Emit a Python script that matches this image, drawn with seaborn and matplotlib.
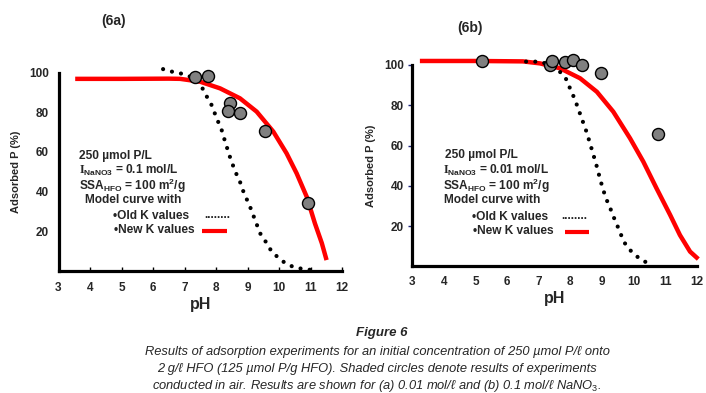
import matplotlib
matplotlib.use("Agg")
import matplotlib.pyplot as plt
import seaborn as sns
import pandas as pd
from matplotlib.lines import Line2D

# ---------------- data ----------------
# Panel 6a
a_new_ph = [3.53, 5.0, 6.5, 6.86, 7.49, 8.13, 8.76, 9.29, 9.82, 10.24, 10.56, 10.88, 11.14, 11.36, 11.51]
a_new_p  = [96.8, 96.8, 96.9, 96.8, 95.4, 92.0, 87.0, 80.3, 70.2, 59.3, 49.2, 37.4, 24.0, 14.0, 5.5]
a_old_ph = [6.32, 6.58, 6.84, 7.1, 7.3, 7.49, 7.65, 7.86, 8.02, 8.18, 8.29, 8.44, 8.6, 8.76, 8.87,
            9.08, 9.24, 9.4, 9.61, 9.77, 10.03, 10.24, 10.5, 10.77, 11.04]
a_old_p  = [101.7, 100.5, 99.7, 98.5, 97.0, 94.6, 89.5, 83.6, 77.0, 71.0, 65.1, 57.6, 50.5, 45.0, 40.0,
            32.4, 25.7, 19.0, 14.0, 9.7, 6.0, 3.5, 1.8, 1.0, 0.5]
a_obs_ph = [7.33, 7.74, 8.44, 8.39, 8.76, 9.56, 10.93]
a_obs_p  = [97.9, 98.4, 84.8, 80.8, 79.8, 70.7, 34.4]

# Panel 6b
b_new_ph = [3.24, 5.0, 6.5, 7.04, 7.67, 8.31, 8.84, 9.36, 9.89, 10.31, 10.73, 11.16, 11.47, 11.79, 12.05]
b_new_p  = [102.0, 102.0, 101.8, 100.8, 98.4, 93.4, 86.7, 76.8, 63.6, 52.0, 38.7, 25.5, 15.5, 7.3, 3.6]
b_old_ph = [6.6, 6.85, 7.1, 7.46, 7.73, 7.89, 7.99, 8.1, 8.2, 8.36, 8.52, 8.71, 8.84, 8.94, 9.04,
            9.15, 9.26, 9.41, 9.52, 9.63, 9.73, 9.89, 10.05, 10.26, 10.47]
b_old_p  = [101.7, 101.7, 101.5, 99.0, 95.9, 92.5, 88.4, 84.5, 80.5, 73.5, 66.5, 56.5, 49.5, 43.5, 38.0,
            33.0, 29.0, 23.0, 19.0, 14.7, 11.4, 8.1, 5.6, 3.1, 1.5]
b_obs_ph = [5.22, 7.36, 7.41, 7.83, 8.08, 8.36, 8.96, 10.79]
b_obs_p  = [102.0, 100.0, 102.0, 101.3, 102.5, 100.0, 95.9, 65.6]

x_ticks = [3, 4, 5, 6, 7, 8, 9, 10, 11, 12]
y_ticks = [20, 40, 60, 80, 100]

# ---------------- style ----------------
sns.set_style("white")
plt.rcParams['font.family'] = ['Liberation Sans', 'DejaVu Sans']
plt.rcParams['mathtext.fontset'] = 'custom'
plt.rcParams['mathtext.rm'] = 'Liberation Sans'
plt.rcParams['mathtext.it'] = 'Liberation Sans:italic'
plt.rcParams['mathtext.bf'] = 'Liberation Serif:bold'
plt.rcParams['mathtext.sf'] = 'Liberation Sans:bold'

W, H = 706, 393
fig = plt.figure(figsize=(W / 100, H / 100), dpi=100)

def fx(px):
    return px / W

def fy(py):
    return 1 - py / H

RED = '#ff0000'

def panel(rect, new_ph, new_p, old_ph, old_p, obs_ph, obs_p, is_b):
    ax = fig.add_axes(rect)
    df_new = pd.DataFrame({'pH': new_ph, 'P': new_p})
    df_old = pd.DataFrame({'pH': old_ph, 'P': old_p})
    df_obs = pd.DataFrame({'pH': obs_ph, 'P': obs_p})
    sns.lineplot(data=df_new, x='pH', y='P', ax=ax, color=RED, linewidth=3.2,
                 estimator=None, sort=False, zorder=2)
    red_line = ax.lines[-1]
    red_line.set_solid_capstyle('butt')
    red_line.set_solid_joinstyle('round')
    sns.lineplot(data=df_old, x='pH', y='P', ax=ax, color='black', linewidth=3.0,
                 estimator=None, sort=False, zorder=2)
    dot_line = ax.lines[-1]
    dot_line.set_linestyle((0, (0.01, 2.2)))
    dot_line.set_dash_capstyle('round')
    sns.scatterplot(data=df_obs, x='pH', y='P', ax=ax, s=75, color='#808080',
                    edgecolor='black', linewidth=1.0, zorder=3)
    for ln in ax.lines:
        ln.set_clip_on(False)
    for c in ax.collections:
        c.set_clip_on(False)
    ax.set_xlim(3, 12)
    ax.set_ylim(0, 100)
    ax.set_xticks(x_ticks)
    ax.set_yticks(y_ticks)
    ax.set_xticklabels([str(v) for v in x_ticks], fontsize=8.5, fontweight='bold')
    ax.set_yticklabels([str(v) for v in y_ticks], fontsize=8.5, fontweight='bold')
    for s in ['top', 'right']:
        ax.spines[s].set_visible(False)
    for s in ['left', 'bottom']:
        ax.spines[s].set_linewidth(2.3)
        ax.spines[s].set_color('black')
    if is_b:
        ax.tick_params(axis='x', length=0, pad=7)
        ax.tick_params(axis='y', length=3, width=1, color='#1a237e', pad=3,
                       direction='out', left=True)
    else:
        ax.tick_params(axis='x', length=3, width=1, direction='in', bottom=True,
                       color='black', pad=8)
        ax.tick_params(axis='y', length=0, pad=7)
    ax.set_xlabel('pH', fontsize=11.5, fontweight='bold', labelpad=2)
    ax.set_ylabel('Adsorbed P (%)', fontsize=8, fontweight='bold', labelpad=6)
    ax.patch.set_alpha(0)
    return ax

ax_a = panel([fx(58.5), fy(271), fx(342) - fx(58.5), fy(72.5) - fy(271)],
             a_new_ph, a_new_p, a_old_ph, a_old_p, a_obs_ph, a_obs_p, False)
ax_b = panel([fx(412.3), fy(266.3), fx(696.7) - fx(412.3), fy(65) - fy(266.3)],
             b_new_ph, b_new_p, b_old_ph, b_old_p, b_obs_ph, b_obs_p, True)

# Titles
fig.text(fx(114), fy(21), '(6a)', fontsize=10, fontweight='bold', ha='center', va='center')
fig.text(fx(470), fy(28), '(6b)', fontsize=10, fontweight='bold', ha='center', va='center')

# Annotation blocks
TS = 8.6
def block(ys, xs, conc, dots_x, dots_y, red_x, red_y):
    lines = ['250 µmol P/L',
             r'$\mathbf{I}_{\mathsf{NaNO3}}$ = ' + conc + ' mol/L',
             r'SSA$_{\mathsf{HFO}}$ = 100 m$^{\mathsf{2}}$/g',
             'Model curve with',
             '•Old K values',
             '•New K values']
    for t, x, y in zip(lines, xs, ys):
        fig.text(fx(x), fy(y), t, fontsize=TS, fontweight='bold', ha='left', va='center')
    fig.text(fx(dots_x), fy(dots_y), '........', fontsize=TS, fontweight='bold',
             ha='left', va='center')
    fig.add_artist(Line2D([fx(red_x[0]), fx(red_x[1])], [fy(red_y), fy(red_y)],
                          color=RED, linewidth=3, solid_capstyle='butt'))

block([156, 170.2, 185.8, 200, 216, 230], [79, 79, 79, 85, 113, 114], '0.1',
      204, 215, (202, 227), 231.5)
block([155, 170.2, 185.5, 200, 216.7, 230.7], [445, 442.7, 442.7, 444, 471.7, 472.7], '0.01',
      561, 216, (565, 589), 232)

# Caption
fig.text(fx(382), fy(333), 'Figure 6', fontsize=9.5, fontweight='bold', style='italic',
         ha='center', va='center')
cap = ['Results of adsorption experiments for an initial concentration of 250 µmol P/ℓ onto',
       '2 g/ℓ HFO (125 µmol P/g HFO). Shaded circles denote results of experiments',
       r'conducted in air. Results are shown for (a) 0.01 mol/ℓ and (b) 0.1 mol/ℓ NaNO$_\mathit{3}$.']
for t, y in zip(cap, [352.5, 369, 386]):
    fig.text(fx(377), fy(y), t, fontsize=9.3, style='italic', ha='center', va='center')

fig.savefig('out.png', dpi=100)
